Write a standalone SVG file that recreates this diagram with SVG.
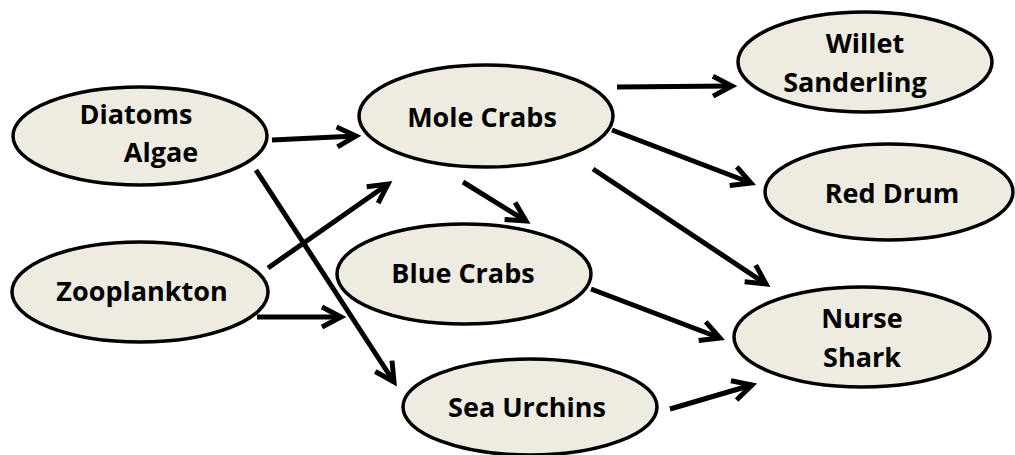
<svg xmlns="http://www.w3.org/2000/svg" width="1015" height="455" viewBox="0 0 1015 455">
<style>
.node ellipse{fill:#EEECE1;stroke:#000;stroke-width:3.5}
.node text{font-family:"Open Sans","Noto Sans",sans-serif;font-weight:bold;font-size:27px;fill:#000;text-anchor:middle}
#connectors line{stroke:#000;stroke-width:5;fill:none;marker-end:url(#arr)}
</style>
<defs>
<marker id="arr" markerUnits="userSpaceOnUse" viewBox="-24 -14 28 28" refX="0" refY="0" markerWidth="28" markerHeight="28" orient="auto" overflow="visible">
<polyline points="-19,-10 0,0 -19,10" fill="none" stroke="#000" stroke-width="5" stroke-linejoin="miter"/>
</marker>
</defs>
<rect width="1015" height="455" fill="#fff"/>
<g id="connectors">
<line x1="272" y1="140" x2="356" y2="136"/>
<line x1="256" y1="170" x2="394" y2="382"/>
<line x1="268" y1="268" x2="388" y2="184"/>
<line x1="257" y1="317" x2="341" y2="317"/>
<line x1="463" y1="182" x2="526" y2="221"/>
<line x1="617" y1="87" x2="732" y2="86"/>
<line x1="612" y1="130" x2="751" y2="183"/>
<line x1="593" y1="169" x2="766" y2="284"/>
<line x1="591" y1="289" x2="720" y2="338"/>
<line x1="670" y1="409" x2="752" y2="385"/>
</g>
<g id="diatoms" class="node"><ellipse cx="140" cy="136" rx="127" ry="49"/><text x="136" y="124">Diatoms</text><text x="161" y="162">Algae</text></g>
<g id="zooplankton" class="node"><ellipse cx="140" cy="292" rx="128" ry="50"/><text x="142" y="301">Zooplankton</text></g>
<g id="molecrabs" class="node"><ellipse cx="486" cy="116" rx="127" ry="51"/><text x="482" y="127">Mole Crabs</text></g>
<g id="bluecrabs" class="node"><ellipse cx="464" cy="274" rx="127" ry="50"/><text x="463" y="283">Blue Crabs</text></g>
<g id="seaurchins" class="node"><ellipse cx="530" cy="407" rx="127" ry="48"/><text x="527" y="417">Sea Urchins</text></g>
<g id="willet" class="node"><ellipse cx="865" cy="62" rx="127" ry="50"/><text x="865" y="53">Willet</text><text x="855" y="92">Sanderling</text></g>
<g id="reddrum" class="node"><ellipse cx="889" cy="192" rx="124" ry="48"/><text x="892" y="203">Red Drum</text></g>
<g id="nurseshark" class="node"><ellipse cx="862" cy="337" rx="128" ry="50"/><text x="862" y="328">Nurse</text><text x="862" y="367">Shark</text></g>
</svg>
